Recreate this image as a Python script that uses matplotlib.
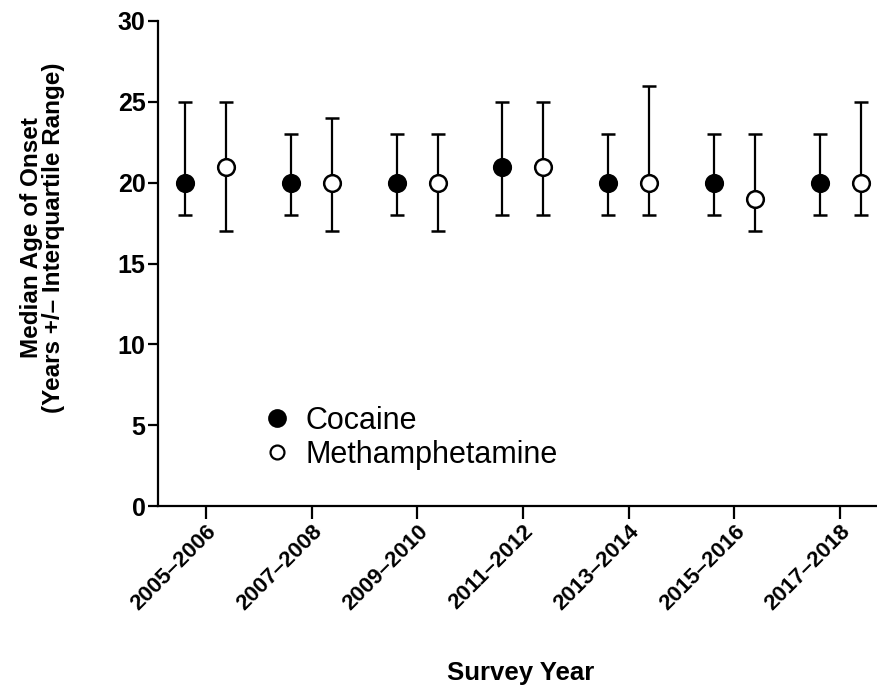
import matplotlib
matplotlib.use("Agg")
import matplotlib.pyplot as plt
from matplotlib.lines import Line2D
import numpy as np

plt.rcParams['font.family'] = ['Liberation Sans', 'DejaVu Sans']

categories = ["2005\u20132006", "2007\u20132008", "2009\u20132010", "2011\u20132012",
              "2013\u20132014", "2015\u20132016", "2017\u20132018"]
cocaine_med = [20, 20, 20, 21, 20, 20, 20]
cocaine_q1 = [18, 18, 18, 18, 18, 18, 18]
cocaine_q3 = [25, 23, 23, 25, 23, 23, 23]
meth_med = [21, 20, 20, 21, 20, 19, 20]
meth_q1 = [17, 17, 17, 18, 18, 17, 18]
meth_q3 = [25, 24, 23, 25, 26, 23, 25]
yticks = [0, 5, 10, 15, 20, 25, 30]

fig = plt.figure(figsize=(8.77, 6.89), dpi=100)
L, R, T, B = 158, 877, 21, 506
ax = fig.add_axes([L/877, 1-B/689, (R-L)/877, (B-T)/689])

x = np.arange(len(categories))
off = 0.194

def err(med, q1, q3):
    med = np.array(med)
    return np.vstack([med - np.array(q1), np.array(q3) - med])

common = dict(fmt='o', ms=12, mew=1.8, ecolor='black', elinewidth=1.6,
              capsize=4.8, capthick=2.4, zorder=3)
ax.errorbar(x - off, cocaine_med, yerr=err(cocaine_med, cocaine_q1, cocaine_q3),
            mfc='black', mec='black', **common)
ax.errorbar(x + off, meth_med, yerr=err(meth_med, meth_q1, meth_q3),
            mfc='white', mec='black', **common)

ax.set_ylim(0, 30)
ax.set_yticks(yticks)
ax.set_xlim(-0.454, 6.35)
ax.set_xticks(x)

ax.spines['top'].set_visible(False)
ax.spines['right'].set_visible(False)
ax.spines['left'].set_linewidth(1.6)
ax.spines['bottom'].set_linewidth(1.6)
ax.tick_params(axis='y', length=7, width=1.6, pad=2)
ax.tick_params(axis='x', length=9, width=1.6, pad=2)

ax.set_xticklabels(categories)
for lbl in ax.get_xticklabels():
    lbl.set_rotation(45)
    lbl.set_ha('right')
    lbl.set_va('top')
    lbl.set_rotation_mode('anchor')
    lbl.set_fontsize(16)
    lbl.set_fontweight('bold')
ax.set_yticklabels([str(v) for v in yticks])
for lbl in ax.get_yticklabels():
    lbl.set_fontweight('bold')
    lbl.set_fontsize(18)

ax.set_ylabel("Median Age of Onset\n(Years +/\u2013 Interquartile Range)", fontsize=17.5,
              fontweight='bold', linespacing=0.95)
ax.yaxis.set_label_coords((65 - L)/(R - L), (B - 238)/(B - T))
ax.set_xlabel("Survey Year", fontsize=18.5, fontweight='bold')
ax.xaxis.set_label_coords((521 - L)/(R - L), -(661 - B)/(B - T))

handles = [Line2D([], [], ls='none', marker='o', ms=12, mfc='black', mec='black', mew=1.5),
           Line2D([], [], ls='none', marker='o', ms=10, mfc='white', mec='black', mew=1.6)]
ax.legend(handles, ['Cocaine', 'Methamphetamine'], loc='center left',
          bbox_to_anchor=((262 - L)/(R - L), (B - 438)/(B - T)), frameon=False,
          fontsize=22, handletextpad=0.41, labelspacing=0.13, handlelength=1.0,
          borderpad=0, borderaxespad=0)

fig.savefig("out.png", dpi=100)
